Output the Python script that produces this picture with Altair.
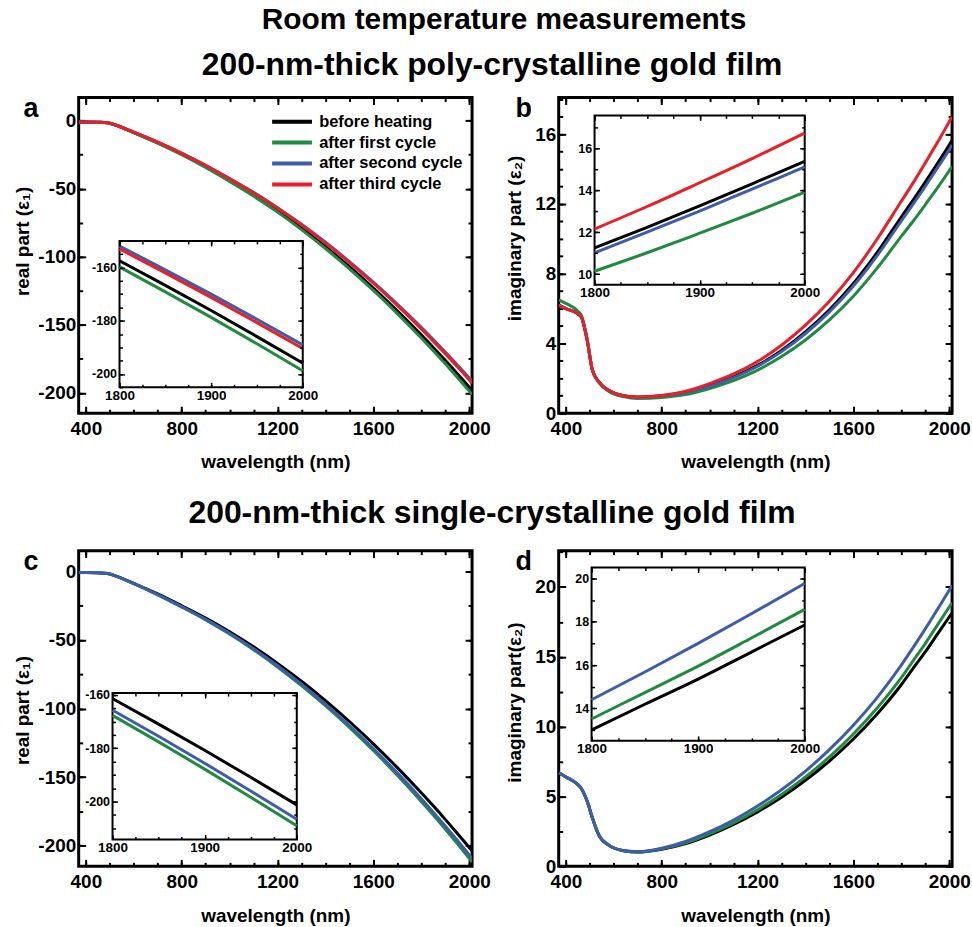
import altair as alt
import pandas as pd

SERIES = ["before heating", "after first cycle", "after second cycle", "after third cycle"]
COLORS = ["#000000", "#1f8b3f", "#3d5dac", "#ee1c25"]

# ---------- real part (panels a, c) ----------
WL_R = [370, 400, 450, 490, 520, 600, 700, 800, 900, 1000, 1100, 1200, 1300,
        1400, 1500, 1600, 1700, 1800, 1850, 1900, 1950, 2000, 2012]
A_BEFORE = [-1.0, -1.0, -1.2, -1.6, -3.0, -8.75, -16.26, -24.70, -33.96, -44.04, -54.64, -66.27, -78.92,
            -92.61, -107.32, -122.97, -139.74, -157.44, -166.70, -176.16, -185.94, -195.92, -198.39]
A_FIRST = [-1.0, -1.0, -1.2, -1.6, -3.0, -8.87, -16.50, -25.06, -34.45, -44.68, -55.44, -67.23, -80.07,
           -93.96, -108.89, -124.76, -141.78, -159.73, -169.13, -178.73, -188.65, -198.78, -201.28]
A_SECOND = [-1.0, -1.0, -1.2, -1.6, -3.0, -8.44, -15.69, -23.83, -32.77, -42.50, -52.73, -63.95, -76.16,
            -89.37, -103.57, -118.66, -134.85, -151.93, -160.87, -170.00, -179.43, -189.07, -191.45]
A_THIRD = [-1.0, -1.0, -1.2, -1.6, -3.0, -8.5, -15.8, -24.0, -33.0, -42.8, -53.1, -64.4, -76.7,
           -90.0, -104.3, -119.5, -135.8, -153.0, -162.0, -171.2, -180.7, -190.4, -192.8]
C_BEFORE = [-1.0, -1.0, -1.2, -1.6, -3.2, -8.77, -16.56, -25.13, -34.09, -44.02, -55.03, -67.11, -80.16,
            -94.28, -109.48, -125.74, -143.08, -161.39, -170.94, -180.77, -190.90, -201.23, -203.76]
C_FIRST = [-1.0, -1.0, -1.2, -1.6, -3.2, -9.11, -17.20, -26.11, -35.42, -45.74, -57.18, -69.73, -83.29,
           -97.96, -113.75, -130.65, -148.66, -167.69, -177.61, -187.83, -198.35, -209.08, -211.71]
C_SECOND = [-1.0, -1.0, -1.2, -1.6, -3.2, -9.0, -17.0, -25.8, -35.0, -45.2, -56.5, -68.9, -82.3,
            -96.8, -112.4, -129.1, -146.9, -165.7, -175.5, -185.6, -196.0, -206.6, -209.2]

# ---------- imaginary part (panels b, d) ----------
WL_I = [370, 400, 450, 465, 490, 510, 540, 580, 640, 700, 800, 900, 1000, 1100,
        1200, 1300, 1400, 1500, 1600, 1700, 1800, 1850, 1900, 1950, 2000, 2012]
B_BEFORE = [6.2, 6.0, 5.7, 5.5, 4.1, 2.5, 1.75, 1.3, 1.0, 0.92, 1.0, 1.2, 1.57, 2.08,
            2.74, 3.6, 4.66, 5.93, 7.44, 9.23, 11.25, 12.23, 13.25, 14.3, 15.37, 15.65]
B_FIRST = [6.5, 6.3, 5.85, 5.6, 4.15, 2.5, 1.72, 1.25, 0.95, 0.84, 0.9, 1.07, 1.42, 1.87,
           2.47, 3.25, 4.2, 5.35, 6.71, 8.33, 10.14, 11.02, 11.95, 12.9, 13.9, 14.15]
B_SECOND = [6.2, 6.0, 5.7, 5.5, 4.1, 2.5, 1.75, 1.3, 1.0, 0.91, 0.99, 1.18, 1.54, 2.04,
            2.69, 3.53, 4.57, 5.81, 7.29, 9.05, 11.02, 12.0, 13.0, 14.05, 15.1, 15.38]
B_THIRD = [6.2, 6.0, 5.7, 5.5, 4.1, 2.5, 1.75, 1.3, 1.0, 0.93, 1.02, 1.26, 1.7, 2.25,
           2.97, 3.9, 5.05, 6.42, 8.06, 10.0, 12.15, 13.22, 14.35, 15.5, 16.71, 17.0]
D_BEFORE = [6.7, 6.4, 5.85, 5.55, 4.6, 3.5, 2.15, 1.5, 1.12, 1.02, 1.22, 1.63, 2.24, 3.0,
            3.9, 4.95, 6.16, 7.54, 9.12, 10.93, 13.0, 14.19, 15.35, 16.6, 17.85, 18.15]
D_FIRST = [6.7, 6.4, 5.85, 5.55, 4.6, 3.5, 2.15, 1.5, 1.12, 1.03, 1.25, 1.68, 2.33, 3.11,
           4.05, 5.14, 6.4, 7.83, 9.47, 11.35, 13.51, 14.73, 15.95, 17.25, 18.57, 18.88]
D_SECOND = [6.7, 6.4, 5.85, 5.55, 4.6, 3.5, 2.15, 1.52, 1.13, 1.05, 1.3, 1.78, 2.48, 3.32,
            4.32, 5.48, 6.82, 8.35, 10.1, 12.1, 14.4, 15.68, 17.0, 18.37, 19.77, 20.1]

# ---------- ticks ----------
X_MAJOR = [400, 800, 1200, 1600, 2000]
X_MINOR = list(range(400, 2001, 100))
REAL_MAJOR = [-200, -150, -100, -50, 0]
REAL_MINOR = list(range(-200, 1, 25))
IMB_MAJOR = [0, 4, 8, 12, 16]
IMB_MINOR = list(range(0, 19))
IMD_MAJOR = [0, 5, 10, 15, 20]
IMD_MINOR = [v * 2.5 for v in range(0, 10)]
IN_X_MAJOR = [1800, 1900, 2000]
IN_X_MINOR = list(range(1800, 2001, 25))

FONT = "Liberation Sans"
W, H = 395, 317
TM, Tm = 7, 4
TIM, TIm = 5, 3
XDOM = [370, 2012]
PLAIN = "'' + datum.value"


def long_df(wl, cols):
    rows = []
    for name, vals in cols:
        for w, v in zip(wl, vals):
            rows.append({"series": name, "wl": w, "val": v})
    return pd.DataFrame(rows)


def ax(orient, values, size, offset, width=2.0, **kw):
    base = dict(orient=orient, values=values, tickSize=size, offset=offset,
                domain=False, grid=False, ticks=True, tickColor="black",
                tickWidth=width, labelFlush=False, labelOverlap=False, labels=False,
                title=None)
    base.update(kw)
    return alt.Axis(**base)


def panel(df, ydom, ymaj, ymin, ytitle, ytpad, tity, inset, letter, ldx, legend):
    xs = alt.Scale(domain=XDOM, nice=False, zero=False)
    ys = alt.Scale(domain=ydom, nice=False, zero=False)
    color = alt.Color("series:N", scale=alt.Scale(domain=SERIES, range=COLORS), legend=legend)

    main = alt.Chart(df).mark_line(strokeWidth=3, clip=True, interpolate="monotone").encode(
        x=alt.X("wl:Q", scale=xs, axis=ax("bottom", X_MAJOR, TM, -TM, labels=True,
                                           labelExpr=PLAIN, title="wavelength (nm)",
                                           labelFontSize=19, labelPadding=6,
                                           titleFontSize=19, titlePadding=15)),
        y=alt.Y("val:Q", scale=ys, axis=ax("left", ymaj, TM, -TM, labels=True, labelExpr=PLAIN,
                                           title=ytitle, labelFontSize=19, labelPadding=3,
                                           titleFontSize=19, titlePadding=ytpad, titleY=tity)),
        color=color,
    )

    def ghost(data, xsc, ysc, xa, ya):
        return alt.Chart(data).mark_point(opacity=0, size=1).encode(
            x=alt.X("wl:Q", scale=xsc, axis=xa), y=alt.Y("val:Q", scale=ysc, axis=ya))

    g1 = ghost(df, xs, ys, ax("bottom", X_MINOR, Tm, -Tm), ax("left", ymin, Tm, -Tm))
    g2 = ghost(df, xs, ys,
               ax("top", X_MAJOR, TM, -TM, title=letter, titleX=ldx, titleY=12,
                  titleAlign="left", titleBaseline="alphabetic", titleAngle=0,
                  titleFontSize=27, titleFont=FONT, titleFontWeight="bold"),
               ax("right", ymaj, TM, -TM))
    g3 = ghost(df, xs, ys, ax("top", X_MINOR, Tm, -Tm), ax("right", ymin, Tm, -Tm))

    xl, xr = inset["xr"]
    yb, yt = inset["yr"]
    lo, hi = inset["ydom"]
    ixs = alt.Scale(domain=[1800, 2000], range=[xl, xr], nice=False, zero=False)
    iys = alt.Scale(domain=[lo, hi], range=[yb, yt], nice=False, zero=False)
    box = pd.DataFrame({"wl": [1800], "wl2": [2000], "val": [lo], "val2": [hi]})
    frame = alt.Chart(box).mark_rect(fill="white", stroke="black", strokeWidth=2).encode(
        x=alt.X("wl:Q", scale=ixs, axis=ax("bottom", IN_X_MAJOR, TIM, yb - TIM - H, width=1.5,
                                            labels=True, labelExpr=PLAIN, labelFontSize=13.5,
                                            labelPadding=1, zindex=1)),
        x2="wl2:Q",
        y=alt.Y("val:Q", scale=iys, axis=ax("left", inset["ymaj"], TIM, -(xl + TIM), width=1.5,
                                             labels=True, labelExpr=PLAIN, labelFontSize=12.5,
                                             labelPadding=3, zindex=1)),
        y2="val2:Q",
    )
    idf = df[(df["wl"] >= 1800) & (df["wl"] <= 2000)]
    ilines = alt.Chart(idf).mark_line(strokeWidth=3, interpolate="monotone").encode(
        x=alt.X("wl:Q", scale=ixs, axis=ax("bottom", IN_X_MINOR, TIm, yb - TIm - H, width=1.5, zindex=1)),
        y=alt.Y("val:Q", scale=iys, axis=ax("left", inset["ymin"], TIm, -(xl + TIm), width=1.5, zindex=1)),
        color=color,
    )
    ig1 = ghost(idf, ixs, iys, ax("top", IN_X_MAJOR, TIM, -(yt + TIM), width=1.5, zindex=1),
                ax("right", inset["ymaj"], TIM, xr - TIM - W, width=1.5, zindex=1))
    ig2 = ghost(idf, ixs, iys, ax("top", IN_X_MINOR, TIm, -(yt + TIm), width=1.5, zindex=1),
                ax("right", inset["ymin"], TIm, xr - TIm - W, width=1.5, zindex=1))

    return alt.layer(main, g1, g2, g3, frame, ilines, ig1, ig2).resolve_scale(
        x="independent", y="independent").properties(width=W, height=H)


df_a = long_df(WL_R, [(SERIES[0], A_BEFORE), (SERIES[1], A_FIRST), (SERIES[2], A_SECOND), (SERIES[3], A_THIRD)])
df_b = long_df(WL_I, [(SERIES[0], B_BEFORE), (SERIES[1], B_FIRST), (SERIES[2], B_SECOND), (SERIES[3], B_THIRD)])
df_c = long_df(WL_R, [(SERIES[0], C_BEFORE), (SERIES[1], C_FIRST), (SERIES[2], C_SECOND)])
df_d = long_df(WL_I, [(SERIES[0], D_BEFORE), (SERIES[1], D_FIRST), (SERIES[2], D_SECOND)])

leg = alt.Legend(orient="none", legendX=191, legendY=16, title=None, symbolType="M-1,0H7",
                 symbolSize=100, symbolStrokeWidth=4, labelFontSize=16.5, labelFont=FONT,
                 labelFontWeight="bold", labelColor="black", labelOffset=34, rowPadding=4,
                 padding=0, labelLimit=300)

pa = panel(df_a, [-215, 17], REAL_MAJOR, REAL_MINOR, "real part  (ε₁)", 5, 144,
           dict(xr=[41, 225], yr=[291, 144], ydom=[-205, -150], ymaj=[-200, -180, -160],
                ymin=list(range(-205, -149, 5))), "a", -56, leg)
pb = panel(df_b, [0, 18.1], IMB_MAJOR, IMB_MINOR, "imaginary part (ε₂)", 10, 141,
           dict(xr=[36, 247], yr=[188, 18], ydom=[9.5, 17.55], ymaj=[10, 12, 14, 16],
                ymin=list(range(10, 18))), "b", -44, None)
pc = panel(df_c, [-215, 15], REAL_MAJOR, REAL_MINOR, "real part  (ε₁)", 5, 160,
           dict(xr=[34, 219], yr=[290, 143], ydom=[-214.2, -159.3], ymaj=[-200, -180, -160],
                ymin=list(range(-210, -159, 5))), "c", -56, None)
pd_ = panel(df_d, [0, 22.6], IMD_MAJOR, IMD_MINOR, "imaginary part(ε₂)", 10, 152,
            dict(xr=[33, 247], yr=[191, 17], ydom=[12.5, 20.5], ymaj=[14, 16, 18, 20],
                 ymin=list(range(13, 21))), "d", -44, None)

row1 = alt.hconcat(pa, pb, spacing=12, title=alt.TitleParams(
    "200-nm-thick poly-crystalline gold film", fontSize=32, font=FONT, fontWeight="bold",
    anchor="middle", offset=11, color="black")).resolve_scale(color="independent")
row2 = alt.hconcat(pc, pd_, spacing=12, title=alt.TitleParams(
    "200-nm-thick single-crystalline gold film", fontSize=32, font=FONT, fontWeight="bold",
    anchor="middle", offset=16, color="black")).resolve_scale(color="independent")

chart = alt.vconcat(row1, row2, spacing=23, title=alt.TitleParams(
    "Room temperature measurements", fontSize=30, font=FONT, fontWeight="bold",
    anchor="middle", offset=14, dx=12, color="black")).resolve_scale(color="independent").properties(
    padding={"left": 12, "top": 3, "right": 0, "bottom": 0}
).configure_view(stroke="black", strokeWidth=3).configure_axis(
    labelFont=FONT, titleFont=FONT, labelFontWeight="bold", titleFontWeight="bold",
    labelColor="black", titleColor="black")

chart.save("out.html", embed_options={"renderer": "svg", "actions": False})
